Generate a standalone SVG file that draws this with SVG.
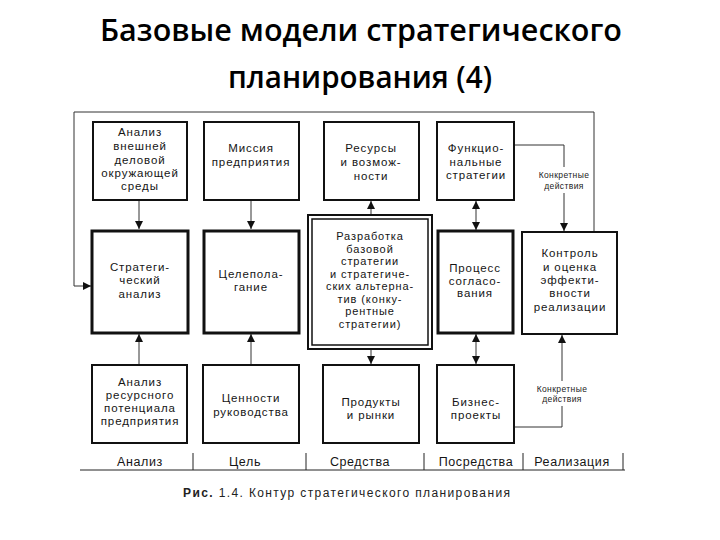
<svg xmlns="http://www.w3.org/2000/svg" width="720" height="540" viewBox="0 0 720 540">
<defs>
<style>
.bx{fill:#fff;stroke:#111;stroke-width:2}
.b3{stroke-width:3}
.t{font-family:"Liberation Sans",Arial,sans-serif;font-size:11.5px;fill:#151515;text-anchor:middle;letter-spacing:0.9px}
.s{font-family:"Liberation Sans",Arial,sans-serif;font-size:8.5px;fill:#222;text-anchor:middle;letter-spacing:0.4px}
.lb{font-family:"Liberation Sans",Arial,sans-serif;font-size:12.5px;fill:#151515;text-anchor:middle;letter-spacing:0.6px}
.ln{stroke:#333;stroke-width:1;fill:none}
.sep{stroke:#222;stroke-width:1;fill:none}
.ttl{font-family:"Open Sans","Liberation Sans",sans-serif;font-weight:600;font-size:30px;fill:#000;text-anchor:middle}
</style>
<marker id="ah" viewBox="0 0 8 8" refX="8" refY="4" markerWidth="8" markerHeight="8" markerUnits="userSpaceOnUse" orient="auto-start-reverse"><path d="M0,0 L8,4 L0,8 z" fill="#111"/></marker>
</defs>
<rect width="720" height="540" fill="#fff"/>
<text class="ttl" x="361" y="41" textLength="522" lengthAdjust="spacingAndGlyphs">Базовые модели стратегического</text>
<text class="ttl" x="360" y="88" textLength="264" lengthAdjust="spacingAndGlyphs">планирования (4)</text>

<g id="connectors">
<path class="ln" d="M139,200 V229" marker-end="url(#ah)"/>
<path class="ln" d="M251,200 V229" marker-end="url(#ah)"/>
<path class="ln" d="M371,214 V201" marker-end="url(#ah)"/>
<path class="ln" d="M476,201 V230" marker-start="url(#ah)" marker-end="url(#ah)"/>
<path class="ln" d="M514,145 H564 V167"/>
<path class="ln" d="M564,193 V231" marker-end="url(#ah)"/>
<path class="ln" d="M594,232 V112 H74 V286 H91" marker-end="url(#ah)"/>
<path class="ln" d="M139,365 V334" marker-end="url(#ah)"/>
<path class="ln" d="M251,365 V334" marker-end="url(#ah)"/>
<path class="ln" d="M371,349 V364" marker-end="url(#ah)"/>
<path class="ln" d="M476,334 V364" marker-start="url(#ah)" marker-end="url(#ah)"/>
<path class="ln" d="M514,427 H562 V406"/>
<path class="ln" d="M562,381 V335" marker-end="url(#ah)"/>
<text class="s" x="564" y="178">Конкретные</text>
<text class="s" x="564" y="189">действия</text>
<text class="s" x="562" y="392">Конкретные</text>
<text class="s" x="562" y="402">действия</text>
</g>

<g id="n-env"><rect class="bx" x="93" y="122" width="94" height="78"/>
<text class="t" x="140" y="136">Анализ</text><text class="t" x="140" y="150">внешней</text><text class="t" x="140" y="164">деловой</text><text class="t" x="140" y="177">окружающей</text><text class="t" x="140" y="190">среды</text></g>
<g id="n-mission"><rect class="bx" x="204" y="122" width="95" height="78"/>
<text class="t" x="251" y="152">Миссия</text><text class="t" x="251" y="166">предприятия</text></g>
<g id="n-res"><rect class="bx" x="324" y="122" width="95" height="78"/>
<text class="t" x="371" y="152">Ресурсы</text><text class="t" x="371" y="166">и возмож-</text><text class="t" x="371" y="180">ности</text></g>
<g id="n-func"><rect class="bx" x="437" y="122" width="77" height="78"/>
<text class="t" x="476" y="152">Функцио-</text><text class="t" x="476" y="166">нальные</text><text class="t" x="476" y="179">стратегии</text></g>

<g id="n-stratan"><rect class="bx b3" x="92" y="231" width="96" height="102"/>
<text class="t" x="140" y="271">Стратеги-</text><text class="t" x="140" y="284">ческий</text><text class="t" x="140" y="298">анализ</text></g>
<g id="n-goal"><rect class="bx b3" x="204" y="231" width="95" height="102"/>
<text class="t" x="251" y="278">Целепола-</text><text class="t" x="251" y="291">гание</text></g>
<g id="n-dev"><rect class="bx" x="308" y="215" width="124" height="134"/><rect fill="none" stroke="#111" stroke-width="1.5" x="312" y="219" width="116" height="126"/>
<text class="t" x="370" y="240" style="font-size:11px">Разработка</text><text class="t" x="370" y="252.5" style="font-size:11px">базовой</text><text class="t" x="370" y="265" style="font-size:11px">стратегии</text><text class="t" x="370" y="277.5" style="font-size:11px">и стратегиче-</text><text class="t" x="370" y="290" style="font-size:11px">ских альтерна-</text><text class="t" x="370" y="302.5" style="font-size:11px">тив (конку-</text><text class="t" x="370" y="315" style="font-size:11px">рентные</text><text class="t" x="370" y="327.5" style="font-size:11px">стратегии)</text></g>
<g id="n-coord"><rect class="bx b3" x="438" y="231" width="75" height="102"/>
<text class="t" x="475" y="272">Процесс</text><text class="t" x="475" y="284.5">согласо-</text><text class="t" x="475" y="297">вания</text></g>
<g id="n-ctrl"><rect class="bx" x="522" y="232" width="95" height="102"/>
<text class="t" x="570" y="257">Контроль</text><text class="t" x="570" y="271">и оценка</text><text class="t" x="570" y="284">эффекти-</text><text class="t" x="570" y="297">вности</text><text class="t" x="570" y="311">реализации</text></g>

<g id="n-resan"><rect class="bx" x="92" y="365" width="95" height="78"/>
<text class="t" x="140" y="386">Анализ</text><text class="t" x="140" y="399">ресурсного</text><text class="t" x="140" y="412">потенциала</text><text class="t" x="140" y="425">предприятия</text></g>
<g id="n-values"><rect class="bx" x="203" y="365" width="96" height="78"/>
<text class="t" x="251" y="402">Ценности</text><text class="t" x="251" y="416">руководства</text></g>
<g id="n-prod"><rect class="bx" x="323" y="365" width="96" height="78"/>
<text class="t" x="371" y="406">Продукты</text><text class="t" x="371" y="419">и рынки</text></g>
<g id="n-biz"><rect class="bx" x="437" y="365" width="77" height="78"/>
<text class="t" x="476" y="406">Бизнес-</text><text class="t" x="476" y="419">проекты</text></g>

<g id="scale">
<path class="sep" d="M80,470 H625 M193,453 V470 M306,453 V470 M424,453 V470 M523,453 V470 M623,453 V470"/>
<text class="lb" x="140" y="466">Анализ</text>
<text class="lb" x="245" y="466">Цель</text>
<text class="lb" x="360" y="466">Средства</text>
<text class="lb" x="476" y="466">Посредства</text>
<text class="lb" x="572" y="466">Реализация</text>
</g>
<text x="183" y="497" style="font-family:'Liberation Sans',Arial,sans-serif;font-size:12px;fill:#222" textLength="327" lengthAdjust="spacing"><tspan font-weight="bold">Рис.</tspan> 1.4. Контур стратегического планирования</text>
</svg>
